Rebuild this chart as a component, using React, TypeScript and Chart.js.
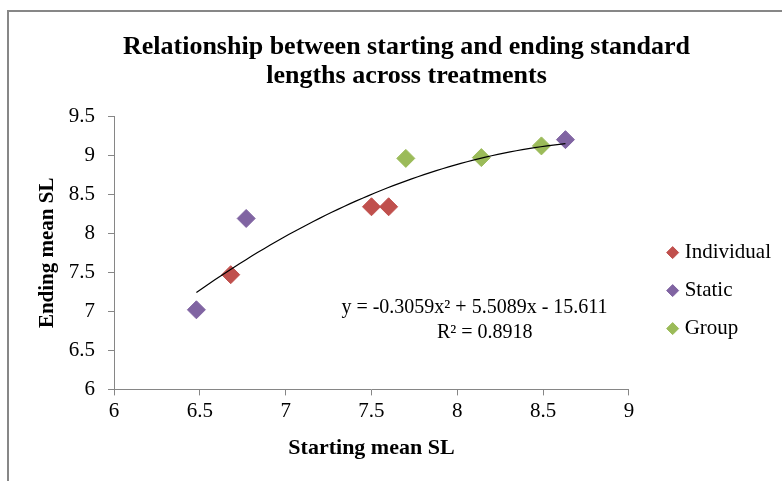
import { useEffect, useRef } from 'react';
import { Chart, registerables } from 'chart.js';

Chart.register(...registerables);

// ---- data ----
const TITLE_LINES = ['Relationship between starting and ending standard', 'lengths across treatments'];
const X_TITLE = 'Starting mean SL';
const Y_TITLE = 'Ending mean SL';
const SERIES_NAMES = ['Individual', 'Static', 'Group'];
const SERIES_COLORS = ['#C0504D', '#8064A2', '#9BBB59'];
const INDIVIDUAL_X = [6.68, 7.5, 7.6];
const INDIVIDUAL_Y = [7.47, 8.34, 8.34];
const STATIC_X = [6.48, 6.77, 8.63];
const STATIC_Y = [7.02, 8.19, 9.2];
const GROUP_X = [7.7, 8.14, 8.49];
const GROUP_Y = [8.96, 8.97, 9.12];
// polynomial (order 2) trendline shown on the chart: a*x^2 + b*x + c
const TREND_COEFFS = [-0.3059, 5.5089, -15.611];
const EQUATION_LINES = ['y = -0.3059x\u00B2 + 5.5089x - 15.611', 'R\u00B2 = 0.8918'];
const X_MIN = 6;
const X_MAX = 9;
const Y_MIN = 6;
const Y_MAX = 9.5;
const TICK_STEP = 0.5;

const FONT = '"Liberation Serif", "Times New Roman", serif';

function pts(xs: number[], ys: number[]) {
  return xs.map((x, i) => ({ x, y: ys[i] }));
}

function trendPoints() {
  const allX = [...INDIVIDUAL_X, ...STATIC_X, ...GROUP_X];
  const lo = Math.min(...allX);
  const hi = Math.max(...allX);
  const n = 60;
  const [a, b, c] = TREND_COEFFS;
  const out: { x: number; y: number }[] = [];
  for (let i = 0; i <= n; i++) {
    const x = lo + ((hi - lo) * i) / n;
    out.push({ x, y: a * x * x + b * x + c });
  }
  return out;
}

const equationPlugin = {
  id: 'trendEquation',
  afterDatasetsDraw(chart: any) {
    const { ctx, scales } = chart;
    const xs = scales.x;
    const ys = scales.y;
    ctx.save();
    ctx.font = `20px ${FONT}`;
    ctx.fillStyle = '#000';
    ctx.textAlign = 'center';
    ctx.textBaseline = 'middle';
    ctx.fillText(EQUATION_LINES[0], xs.getPixelForValue(8.1), ys.getPixelForValue(7.04));
    ctx.fillText(EQUATION_LINES[1], xs.getPixelForValue(8.16), ys.getPixelForValue(6.72));
    ctx.restore();
  },
};

export default function App() {
  const ref = useRef<HTMLCanvasElement | null>(null);

  useEffect(() => {
    if (!ref.current) return;
    const seriesX = [INDIVIDUAL_X, STATIC_X, GROUP_X];
    const seriesY = [INDIVIDUAL_Y, STATIC_Y, GROUP_Y];
    const datasets: any[] = SERIES_NAMES.map((name, i) => ({
      label: name,
      data: pts(seriesX[i], seriesY[i]),
      backgroundColor: SERIES_COLORS[i],
      borderColor: SERIES_COLORS[i],
      borderWidth: 1,
      pointStyle: 'rectRot',
      pointRadius: 9,
      pointHoverRadius: 9,
      order: i + 1,
    }));
    datasets.push({
      label: 'Poly. trend',
      data: trendPoints(),
      showLine: true,
      borderColor: '#000',
      borderWidth: 1.2,
      pointRadius: 0,
      pointHoverRadius: 0,
      fill: false,
      order: 0,
    });

    const axisColor = '#868686';
    const tickLabel = (v: any) => `${Number(v)}`;
    const chart = new Chart(ref.current, {
      type: 'scatter',
      data: { datasets },
      plugins: [equationPlugin],
      options: {
        animation: false,
        responsive: false,
        maintainAspectRatio: false,
        layout: { padding: { left: 35, right: 4, top: 0, bottom: 19 } },
        plugins: {
          tooltip: { enabled: false },
          title: {
            display: true,
            text: TITLE_LINES,
            color: '#000',
            font: { family: FONT, size: 26, weight: 'bold', lineHeight: 1.12 },
            padding: { top: 33, bottom: 25 },
          },
          legend: {
            display: true,
            position: 'right',
            align: 'center',
            title: { display: true, text: ' ', font: { size: 1 }, padding: { top: 118, bottom: 0 } },
            labels: {
              usePointStyle: true,
              boxWidth: 3,
              boxHeight: 8.5,
              padding: 17,
              color: '#000',
              font: { family: FONT, size: 21 },
              filter: (item: any) => item.datasetIndex < SERIES_NAMES.length,
            },
          },
        },
        scales: {
          x: {
            type: 'linear',
            position: 'bottom',
            min: X_MIN,
            max: X_MAX,
            ticks: { stepSize: TICK_STEP, color: '#000', font: { family: FONT, size: 21 }, padding: 3, callback: tickLabel },
            grid: { display: true, drawOnChartArea: false, drawTicks: true, tickLength: 6, color: axisColor },
            border: { display: true, color: axisColor, width: 1 },
            title: {
              display: true,
              text: X_TITLE,
              color: '#000',
              font: { family: FONT, size: 22, weight: 'bold' },
              padding: { top: 9, bottom: 0 },
            },
          },
          y: {
            type: 'linear',
            position: 'left',
            min: Y_MIN,
            max: Y_MAX,
            afterFit: (scale: any) => {
              scale.width = 79;
            },
            ticks: { stepSize: TICK_STEP, color: '#000', font: { family: FONT, size: 21 }, padding: 13, callback: tickLabel },
            grid: { display: true, drawOnChartArea: false, drawTicks: true, tickLength: 6, color: axisColor },
            border: { display: true, color: axisColor, width: 1 },
            title: {
              display: true,
              text: Y_TITLE,
              color: '#000',
              font: { family: FONT, size: 21, weight: 'bold' },
              padding: { top: 0, bottom: 0 },
            },
          },
          gap: {
            type: 'linear',
            position: 'right',
            display: true,
            grid: { display: false, drawTicks: false },
            border: { display: false },
            ticks: { display: false },
            title: { display: true, text: ' ', font: { size: 1 }, padding: { top: 12, bottom: 12 } },
          },
        },
      } as any,
    });
    return () => chart.destroy();
  }, []);

  return (
    <div
      style={{
        position: 'fixed',
        left: 0,
        top: 0,
        width: 782,
        height: 481,
        overflow: 'hidden',
        background: '#fff',
      }}
    >
      <div
        style={{
          position: 'absolute',
          left: 7,
          top: 10,
          width: 900,
          height: 600,
          borderLeft: '2px solid #878787',
          borderTop: '2px solid #878787',
        }}
      />
      <canvas ref={ref} width={782} height={481} style={{ position: 'absolute', left: 0, top: 0 }} />
    </div>
  );
}
